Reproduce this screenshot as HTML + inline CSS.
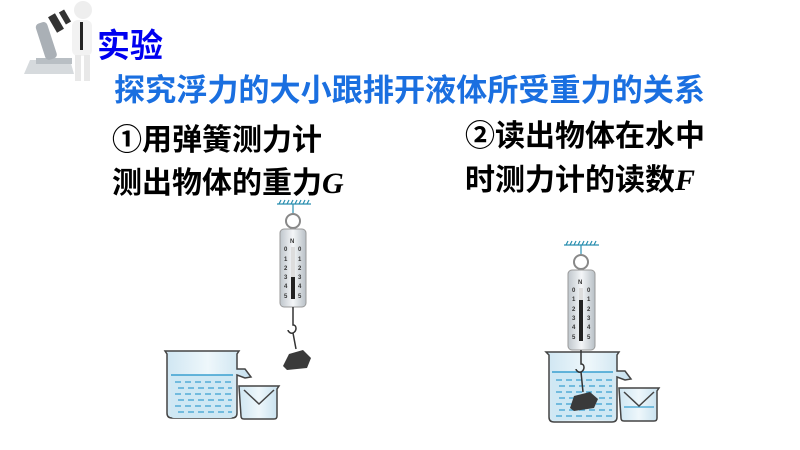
<!DOCTYPE html>
<html><head><meta charset="utf-8"><style>
html,body{margin:0;padding:0;background:#fff;width:800px;height:450px;overflow:hidden}
svg{display:block}
text{font-family:"Liberation Sans","Noto Sans CJK SC",sans-serif;font-weight:bold}
</style></head><body>
<svg width="800" height="450" viewBox="0 0 800 450">
<defs>
<linearGradient id="g" x1="0" x2="1"><stop offset="0" stop-color="#bfc6cc"/><stop offset=".5" stop-color="#f4f6f8"/><stop offset="1" stop-color="#b8c0c6"/></linearGradient>
<linearGradient id="w" x1="0" x2="1"><stop offset="0" stop-color="#cfe6f2"/><stop offset=".5" stop-color="#eef7fb"/><stop offset="1" stop-color="#c6e0ee"/></linearGradient>
</defs>
<!-- icon -->
<g>
<path d="M24 74l6-14h40l4 14z" fill="#d6dadd"/>
<rect x="36" y="58" width="36" height="6" fill="#b9bfc4"/>
<rect x="40" y="22" width="12" height="38" rx="4" fill="#aab0b6" transform="rotate(-18 46 40)"/>
<rect x="52" y="14" width="8" height="18" fill="#333" transform="rotate(-30 56 23)"/>
<rect x="62" y="10" width="6" height="14" fill="#333" transform="rotate(-30 65 17)"/>
<circle cx="83" cy="10" r="9" fill="#eee"/>
<rect x="72" y="20" width="20" height="36" rx="6" fill="#f2f2f2"/>
<rect x="80" y="22" width="3" height="28" fill="#222"/>
<rect x="75" y="55" width="6" height="26" fill="#e8e8e8"/>
<rect x="84" y="55" width="6" height="26" fill="#e8e8e8"/>
</g>
<text x="97" y="57" font-size="33" fill="#0000f0">实验</text>
<text x="114" y="101" font-size="31" fill="#1a6fe0" textLength="591" lengthAdjust="spacingAndGlyphs">探究浮力的大小跟排开液体所受重力的关系</text>
<text x="112" y="150" font-size="30" fill="#000">①用弹簧测力计</text>
<text x="112" y="193" font-size="30" fill="#000">测出物体的重力<tspan font-family="Liberation Serif" font-style="italic">G</tspan></text>
<text x="465" y="146" font-size="30" fill="#000">②读出物体在水中</text>
<text x="465" y="190" font-size="30" fill="#000">时测力计的读数<tspan font-family="Liberation Serif" font-style="italic">F</tspan></text>

<!-- left scale -->
<g stroke="#2a8fb0" stroke-width="1.2" fill="none">
<line x1="277" y1="204" x2="311" y2="204"/><path d="M279 204l2-4M283 204l2-4M287 204l2-4M291 204l2-4M295 204l2-4M299 204l2-4M303 204l2-4M307 204l2-4"/>
<line x1="293" y1="204" x2="293" y2="213"/>
</g>
<circle cx="293" cy="221" r="7" fill="none" stroke="#888" stroke-width="2"/>
<rect x="280" y="229" width="26" height="78" rx="4" fill="url(#g)" stroke="#999"/>
<text x="290" y="243" font-size="6" fill="#333">N</text>
<rect x="291" y="247" width="4" height="52" fill="#222"/>
<rect x="291" y="247" width="4" height="30" fill="#ddd"/>
<g font-size="6" fill="#333" font-weight="normal"><text x="284" y="251">0</text><text x="284" y="261">1</text><text x="284" y="270">2</text><text x="284" y="279">3</text><text x="284" y="288">4</text><text x="284" y="298">5</text><text x="298" y="251">0</text><text x="298" y="261">1</text><text x="298" y="270">2</text><text x="298" y="279">3</text><text x="298" y="288">4</text><text x="298" y="298">5</text></g>
<path d="M293 307v18c4 0 4 6 0 8c-3 1-5-2-5-3M293 333l3 16" stroke="#333" stroke-width="1.5" fill="none"/>
<path d="M283 366l6-12l14-4l8 8l-4 10l-20 2z" fill="#3a3a3a"/>
<!-- left beaker -->
<path d="M165 351h74l-2 3v15h8l6 8l-6 1l-8-3v38q0 5-5 5h-60q-5 0-5-5v-59z" fill="url(#w)" stroke="#444" stroke-width="1.5"/>
<path d="M171 375h62v40q0 3-3 3h-56q-3 0-3-3z" fill="#cfe8f4"/>
<line x1="171" y1="375" x2="233" y2="375" stroke="#3aa0d0" stroke-width="1.5"/>
<g stroke="#3aa0d0" stroke-width="1.3" stroke-dasharray="6 4"><line x1="175" y1="382" x2="232" y2="382"/><line x1="178" y1="388" x2="232" y2="388"/><line x1="175" y1="394" x2="232" y2="394"/><line x1="178" y1="400" x2="232" y2="400"/><line x1="175" y1="406" x2="232" y2="406"/><line x1="178" y1="412" x2="232" y2="412"/></g>
<path d="M239 386h40l-2 3v27q0 3-3 3h-30q-3 0-3-3z" fill="url(#w)" stroke="#444" stroke-width="1.5"/>
<path d="M244 390l15 14l15-14" stroke="#444" stroke-width="1.5" fill="none"/>

<!-- right scale -->
<g stroke="#2a8fb0" stroke-width="1.2" fill="none">
<line x1="564" y1="245" x2="599" y2="245"/><path d="M566 245l2-4M570 245l2-4M574 245l2-4M578 245l2-4M582 245l2-4M586 245l2-4M590 245l2-4M594 245l2-4"/>
<line x1="581" y1="245" x2="581" y2="254"/>
</g>
<circle cx="581" cy="262" r="7" fill="none" stroke="#888" stroke-width="2"/>
<path d="M546 352h73l-2 3v16h8l6 8l-6 1l-8-3v40q0 5-5 5h-58q-5 0-5-5v-62z" fill="url(#w)" stroke="#444" stroke-width="1.5"/>
<path d="M552 372h61v45q0 3-3 3h-55q-3 0-3-3z" fill="#cfe8f4"/>
<line x1="552" y1="372" x2="613" y2="372" stroke="#3aa0d0" stroke-width="1.5"/>
<g stroke="#3aa0d0" stroke-width="1.3" stroke-dasharray="6 4"><line x1="556" y1="380" x2="612" y2="380"/><line x1="559" y1="386" x2="612" y2="386"/><line x1="556" y1="392" x2="612" y2="392"/><line x1="559" y1="398" x2="612" y2="398"/><line x1="556" y1="404" x2="612" y2="404"/><line x1="559" y1="410" x2="612" y2="410"/><line x1="556" y1="416" x2="612" y2="416"/></g>
<rect x="568" y="270" width="27" height="80" rx="4" fill="url(#g)" stroke="#999"/>
<text x="578" y="284" font-size="6" fill="#333">N</text>
<rect x="579" y="288" width="4" height="53" fill="#222"/>
<rect x="579" y="288" width="4" height="12" fill="#ddd"/>
<g font-size="6" fill="#333" font-weight="normal"><text x="572" y="292">0</text><text x="572" y="301">1</text><text x="572" y="311">2</text><text x="572" y="320">3</text><text x="572" y="329">4</text><text x="572" y="339">5</text><text x="587" y="292">0</text><text x="587" y="301">1</text><text x="587" y="311">2</text><text x="587" y="320">3</text><text x="587" y="329">4</text><text x="587" y="339">5</text></g>
<path d="M581 350v14c4 0 4 6 0 8c-3 1-5-2-5-3M581 372l2 20" stroke="#333" stroke-width="1.5" fill="none"/>
<path d="M570 408l4-12l16-4l8 7l-4 9l-20 3z" fill="#3a3a3a"/>
<path d="M619 388h40l-2 3v27q0 3-3 3h-30q-3 0-3-3z" fill="url(#w)" stroke="#444" stroke-width="1.5"/>
<line x1="624" y1="407" x2="654" y2="407" stroke="#3aa0d0" stroke-width="1.3"/>
<path d="M624 392l15 14l15-14" stroke="#444" stroke-width="1.5" fill="none"/>
</svg>
</body></html>
